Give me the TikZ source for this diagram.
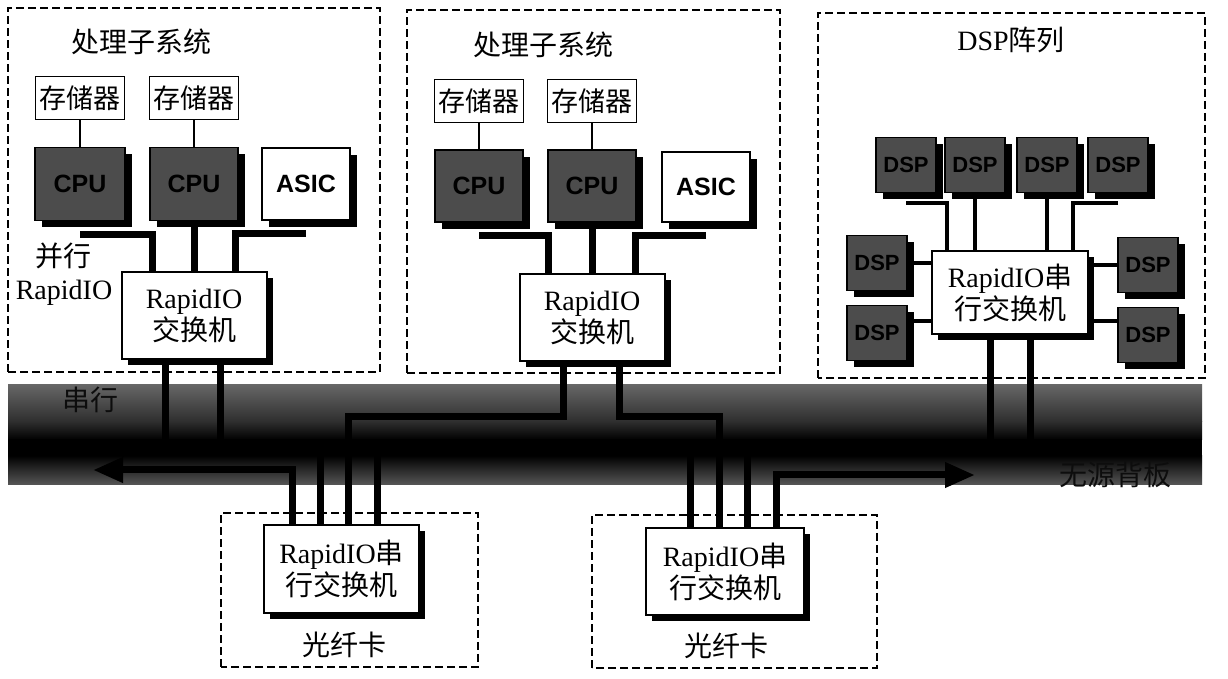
\documentclass[tikz,border=0pt]{standalone}
\usepackage{fontspec}
\setmainfont{Liberation Serif}
\newfontfamily\hanzi{Noto Sans CJK SC}
\newfontfamily\chipsans{Liberation Sans}
\usetikzlibrary{positioning, calc, arrows.meta, shadows, backgrounds}

\tikzset{
  group/.style={line width=2.5pt, dash pattern=on 8pt off 4pt},
  title/.style={font=\fontsize{28}{33}\selectfont},
  memory/.style={draw, fill=white, line width=1.5pt, inner sep=0pt, minimum width=89pt, minimum height=43pt, font=\hanzi\fontsize{27}{32}\selectfont},
  chip/.style={draw, fill=black!70, line width=1.5pt, inner sep=0pt, minimum width=88pt, minimum height=72pt, font=\chipsans\bfseries\fontsize{25}{30}\selectfont, drop shadow={shadow xshift=7pt, shadow yshift=-7pt, fill=black, opacity=1}},
  asic/.style={chip, fill=white},
  dsp/.style={chip, minimum width=60pt, minimum height=55pt, font=\chipsans\bfseries\fontsize{22}{26}\selectfont},
  switch/.style={draw, fill=white, line width=2pt, inner sep=0pt, align=center, font=\fontsize{28}{32}\selectfont, drop shadow={shadow xshift=6pt, shadow yshift=-6pt, fill=black, opacity=1}},
  wire/.style={line width=7pt},
  link/.style={line width=4.5pt},
  memlink/.style={line width=2.5pt},
  port/.style={wire, -{Triangle[length=30pt, width=24pt]}},
}

\begin{document}
\begin{tikzpicture}[x=1pt, y=1pt, thick]
    \useasboundingbox (0,0) rectangle (1228,679);

    % Left processing subsystem
    \draw[group] (8,307) rectangle (380,671);
    \node[title] (titleA) at (141,637) {\hanzi 处理子系统};
    \node[memory] (memA1) at (80,581) {存储器};
    \node[memory] (memA2) at (194,581) {存储器};
    \node[chip, minimum width=90pt, minimum height=73pt] (cpuA1) at (80,495) {CPU};
    \node[chip, minimum height=73pt] (cpuA2) at (194,495) {CPU};
    \node[asic] (asicA) at (306,495) {ASIC};
    \node[switch, minimum width=145pt, minimum height=87pt] (swA) at (194,363) {RapidIO\\\hanzi 交换机};
    \node[title, align=center] (parA) at (64,405) {\hanzi 并行\\RapidIO};

    % Middle processing subsystem
    \draw[group] (407,306) rectangle (780,669);
    \node[title] (titleB) at (543,634) {\hanzi 处理子系统};
    \node[memory] (memB1) at (479,578) {存储器};
    \node[memory] (memB2) at (592,578) {存储器};
    \node[chip] (cpuB1) at (479,493) {CPU};
    \node[chip] (cpuB2) at (592,493) {CPU};
    \node[asic, minimum height=70pt] (asicB) at (706,492) {ASIC};
    \node[switch, minimum width=145pt, minimum height=87pt] (swB) at (592,361) {RapidIO\\\hanzi 交换机};

    % DSP array
    \draw[group] (818,301) rectangle (1205,666);
    \node[title] (titleC) at (1011,639) {DSP\hanzi 阵列};
    \node[dsp] (dspT1) at (906,514) {DSP};
    \node[dsp] (dspT2) at (975,514) {DSP};
    \node[dsp] (dspT3) at (1047,514) {DSP};
    \node[dsp] (dspT4) at (1118,514) {DSP};
    \node[dsp] (dspL1) at (877,416) {DSP};
    \node[dsp] (dspL2) at (877,346) {DSP};
    \node[dsp] (dspR1) at (1148,414) {DSP};
    \node[dsp] (dspR2) at (1148,344) {DSP};
    \node[switch, minimum width=156pt, minimum height=83pt] (swC) at (1010,386) {RapidIO\hanzi 串\\\hanzi 行交换机};

    % Fibre cards
    \draw[group] (221,12) rectangle (478,166);
    \node[switch, minimum width=155pt, minimum height=88pt] (cardSw1) at (341.5,110) {RapidIO\hanzi 串\\\hanzi 行交换机};
    \node[title] (cardA) at (344,34) {\hanzi 光纤卡};
    \draw[group] (592,11) rectangle (877,164);
    \node[switch, minimum width=158pt, minimum height=87pt] (cardSw2) at (725,107.5) {RapidIO\hanzi 串\\\hanzi 行交换机};
    \node[title] (cardB) at (726,33) {\hanzi 光纤卡};

    % Free ends in the backplane
    \coordinate (busL) at (348,262);
    \coordinate (busR) at (719,262);
    \coordinate (westEnd) at (93,209);
    \coordinate (eastEnd) at (975,204);

    \begin{scope}[on background layer]
    % Passive backplane
    \shade[top color=black!60, bottom color=black!82] (8,257) rectangle (1202,294);
    \shade[top color=black!82, bottom color=black] (8,239) rectangle (1202,257.5);
    \fill[black] (8,223) rectangle (1202,239.5);
    \shade[top color=black, bottom color=black!66] (8,194) rectangle (1202,223.5);
    \node[title, text=black!95] (serial) at (90,279) {\hanzi 串行};
    \node[title, text=black!95] (backplane) at (1115,204) {\hanzi 无源背板};

    % Memory to CPU
    \draw[memlink] (memA1) -- (cpuA1);
    \draw[memlink] (memA2) -- (cpuA2);
    \draw[memlink] (memB1) -- (cpuB1);
    \draw[memlink] (memB2) -- (cpuB2);

    % Parallel RapidIO links
    \draw[wire] ([yshift=-13pt]cpuA1.south) -| ([xshift=-42pt]swA.north);
    \draw[wire] (cpuA2.south) -- (cpuA2.south |- swA.north);
    \draw[wire] ([yshift=-13pt]asicA.south) -| ([xshift=41pt]swA.north);
    \draw[wire] ([yshift=-13pt]cpuB1.south) -| ([xshift=-44pt]swB.north);
    \draw[wire] (cpuB2.south) -- (cpuB2.south |- swB.north);
    \draw[wire] ([yshift=-13pt]asicB.south) -| ([xshift=43pt]swB.north);

    % DSP links
    \draw[link] ([yshift=-10pt]dspT1.south) -| ([xshift=-63pt]swC.north);
    \draw[link] (dspT2.south) -- (dspT2.south |- swC.north);
    \draw[link] (dspT3.south) -- (dspT3.south |- swC.north);
    \draw[link] ([yshift=-10pt]dspT4.south) -| ([xshift=63pt]swC.north);
    \draw[link] (dspL1.east) -- (dspL1.east -| swC.west);
    \draw[link] (dspR1.west) -- (dspR1.west -| swC.east);
    \coordinate (dl2) at ([yshift=12pt]dspL2.east);
    \coordinate (dr2) at ([yshift=14pt]dspR2.west);
    \draw[link] (dl2) -- (dl2 -| swC.west);
    \draw[link] (dr2) -- (dr2 -| swC.east);

    % Serial links into the backplane
    \foreach \dx in {-29,26} \draw[wire] ([xshift=\dx pt]swA.south) -- ++(0,-81);
    \foreach \dx in {-20,20} \draw[wire] ([xshift=\dx pt]swC.south) -- ++(0,-106);
    \draw[wire] ([xshift=-29pt]swB.south) |- (busL) -- (busL |- cardSw1.north);
    \draw[wire] ([xshift=27pt]swB.south) |- (busR) -- (busR |- cardSw2.north);
    \foreach \dx in {-21.5,35.5} \draw[wire] ([xshift=\dx pt]cardSw1.north) -- ++(0,80);
    \foreach \dx in {-35,22} \draw[wire] ([xshift=\dx pt]cardSw2.north) -- ++(0,80);
    \draw[port] ([xshift=-49.5pt]cardSw1.north) |- (westEnd);
    \draw[port] ([xshift=51pt]cardSw2.north) |- (eastEnd);
    \end{scope}
\end{tikzpicture}
\end{document}
